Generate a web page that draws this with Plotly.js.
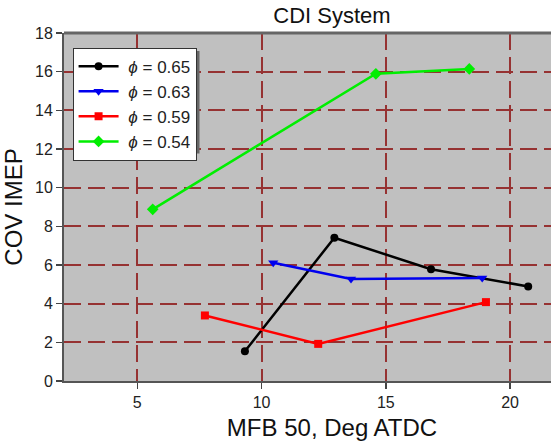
<!DOCTYPE html>
<html>
<head>
<meta charset="utf-8">
<script src="https://cdn.plot.ly/plotly-3.0.1.min.js"></script>
<style>
html, body { margin: 0; padding: 0; overflow: hidden; background: #fff; }
#chart { width: 600px; height: 442px; }
</style>
</head>
<body>
<div id="chart"></div>
<script>
// Data
const seriesNames = [" <i>\u03d5</i> = 0.65", " <i>\u03d5</i> = 0.63", " <i>\u03d5</i> = 0.59", " <i>\u03d5</i> = 0.54"];
const phi065_x = [9.33, 12.93, 16.82, 20.73];
const phi065_y = [1.54, 7.41, 5.78, 4.89];
const phi063_x = [10.47, 13.6, 18.88];
const phi063_y = [6.12, 5.28, 5.33];
const phi059_x = [7.72, 12.28, 19.03];
const phi059_y = [3.39, 1.92, 4.08];
const phi054_x = [5.62, 14.6, 18.36];
const phi054_y = [8.88, 15.89, 16.14];
const xTicks = [5, 10, 15, 20];
const yTicks = [0, 2, 4, 6, 8, 10, 12, 14, 16, 18];

const colors = ["#000000", "#0000ee", "#ff0000", "#00ee00"];
const symbols = ["circle", "triangle-down", "square", "diamond"];
const sizes = [8, 9, 8, 9];
const xs = [phi065_x, phi063_x, phi059_x, phi054_x];
const ys = [phi065_y, phi063_y, phi059_y, phi054_y];

const traces = xs.map((x, i) => ({
  x: x, y: ys[i], name: seriesNames[i], type: "scatter", mode: "lines+markers",
  line: {color: colors[i], width: 2.5},
  marker: {color: colors[i], symbol: symbols[i], size: sizes[i]}
}));

const gridColor = "rgb(150,50,50)";
const pw = 536, ph = 348; // plot area in px (for legend shadow placement)
const layout = {
  width: 600, height: 442,
  margin: {l: 64, r: 0, t: 33, b: 61},
  paper_bgcolor: "#ffffff",
  plot_bgcolor: "#c0c0c0",
  font: {family: "Liberation Sans, Arial, sans-serif", color: "#222", size: 16},
  title: {text: "CDI System", font: {size: 22, color: "#111"}, xref: "paper", x: 0.5, xanchor: "center",
          yref: "container", y: 0.965, yanchor: "middle"},
  showlegend: true,
  legend: {x: 0.016, y: 0.958, xanchor: "left", yanchor: "top", bgcolor: "#ffffff",
           bordercolor: "#333", borderwidth: 1, font: {size: 17, color: "#222"},
           itemwidth: 40, tracegroupgap: 0},
  xaxis: {
    range: [2.05, 23.62], tickvals: xTicks, ticks: "outside", ticklen: 6, tickwidth: 1.5, tickcolor: "#444",
    showline: true, linecolor: "#555", linewidth: 2, mirror: false,
    showgrid: true, gridcolor: gridColor, gridwidth: 2, griddash: "17px,7px",
    zeroline: false, tickfont: {size: 16},
    title: {text: "MFB 50, Deg ATDC", font: {size: 24, color: "#111"}, standoff: 9}
  },
  yaxis: {
    range: [0, 18], tickvals: yTicks, ticks: "outside", ticklen: 6, tickwidth: 1.5, tickcolor: "#444",
    showline: true, linecolor: "#555", linewidth: 2, mirror: false,
    showgrid: true, gridcolor: gridColor, gridwidth: 2, griddash: "17px,7px",
    zeroline: false, tickfont: {size: 16},
    title: {text: "COV IMEP", font: {size: 24, color: "#111"}, standoff: 10}
  },
  shapes: [
    {type: "line", xref: "paper", yref: "paper", x0: 0, x1: 1, y0: 1, y1: 1, line: {color: "#666", width: 3}},
    {type: "rect", xref: "paper", yref: "paper", layer: "above",
     x0: (75 - 64) / pw, x1: (199.5 - 64) / pw, y0: (381 - 153.5) / ph, y1: (381 - 51) / ph,
     fillcolor: "#666", line: {width: 0}}
  ]
};

Plotly.newPlot("chart", traces, layout, {displayModeBar: false, staticPlot: true});
</script>
</body>
</html>
